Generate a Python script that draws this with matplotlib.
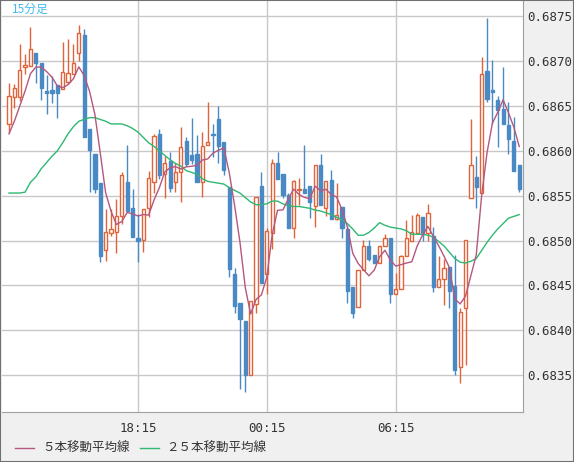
import numpy as np
import matplotlib.pyplot as plt
from matplotlib.patches import Rectangle
from matplotlib.lines import Line2D

# OHLC values (price * 1e5), 15-minute bars
opens = [68630, 68660, 68660, 68693, 68695, 68709, 68698, 68667, 68668, 68673,
         68669, 68677, 68686, 68709, 68729, 68624, 68597, 68564, 68489, 68508,
         68510, 68527, 68565, 68536, 68503, 68501, 68536, 68565, 68619, 68574,
         68589, 68565, 68576, 68611, 68595, 68596, 68565, 68607, 68619, 68636,
         68610, 68560, 68463, 68431, 68410, 68350, 68429, 68561, 68463, 68508,
         68586, 68574, 68551, 68514, 68556, 68558, 68561, 68539, 68584, 68536,
         68567, 68524, 68538, 68513, 68448, 68426, 68467, 68494, 68484, 68475,
         68494, 68503, 68440, 68446, 68483, 68499, 68509, 68526, 68508, 68505,
         68448, 68457, 68471, 68449, 68359, 68425, 68547, 68571, 68553, 68689,
         68668, 68657, 68647, 68629, 68611, 68584]
highs = [68676, 68675, 68719, 68708, 68738, 68709, 68698, 68684, 68683, 68673,
         68721, 68725, 68719, 68740, 68736, 68624, 68597, 68564, 68535, 68535,
         68546, 68577, 68607, 68557, 68530, 68535, 68578, 68619, 68624, 68594,
         68599, 68587, 68627, 68615, 68637, 68618, 68621, 68654, 68630, 68650,
         68610, 68560, 68470, 68431, 68410, 68433, 68549, 68576, 68514, 68591,
         68599, 68574, 68553, 68568, 68570, 68606, 68561, 68584, 68597, 68566,
         68579, 68564, 68538, 68517, 68448, 68467, 68501, 68501, 68484, 68494,
         68507, 68503, 68464, 68484, 68523, 68528, 68531, 68526, 68541, 68515,
         68483, 68480, 68471, 68484, 68425, 68501, 68636, 68594, 68705, 68748,
         68701, 68661, 68693, 68654, 68638, 68584]
lows = [68620, 68648, 68656, 68686, 68695, 68676, 68657, 68641, 68653, 68637,
        68669, 68675, 68686, 68700, 68615, 68554, 68553, 68476, 68477, 68505,
        68486, 68519, 68533, 68504, 68476, 68487, 68526, 68553, 68569, 68547,
        68554, 68554, 68543, 68583, 68585, 68565, 68549, 68607, 68593, 68586,
        68573, 68459, 68419, 68335, 68331, 68350, 68419, 68453, 68441, 68491,
        68569, 68548, 68514, 68503, 68540, 68553, 68525, 68515, 68540, 68527,
        68524, 68523, 68503, 68430, 68414, 68426, 68467, 68477, 68475, 68475,
        68494, 68430, 68440, 68446, 68483, 68499, 68509, 68500, 68500, 68443,
        68448, 68428, 68425, 68350, 68341, 68361, 68547, 68536, 68553, 68654,
        68630, 68604, 68630, 68596, 68578, 68554]
closes = [68661, 68670, 68690, 68696, 68713, 68698, 68670, 68665, 68665, 68664,
          68688, 68687, 68698, 68731, 68615, 68601, 68557, 68483, 68510, 68513,
          68527, 68573, 68533, 68504, 68500, 68535, 68570, 68617, 68573, 68587,
          68559, 68576, 68604, 68585, 68590, 68565, 68605, 68610, 68618, 68605,
          68579, 68468, 68427, 68413, 68350, 68433, 68549, 68453, 68511, 68587,
          68569, 68551, 68514, 68566, 68557, 68553, 68543, 68584, 68540, 68566,
          68524, 68529, 68514, 68444, 68419, 68467, 68494, 68480, 68475, 68494,
          68503, 68440, 68446, 68483, 68503, 68510, 68528, 68507, 68531, 68448,
          68457, 68470, 68444, 68356, 68420, 68501, 68584, 68560, 68686, 68658,
          68666, 68645, 68630, 68613, 68578, 68558]
prior_closes = [68600, 68606, 68611, 68617]
ma25 = [68553, 68553, 68553, 68554, 68565, 68571, 68580, 68587, 68594, 68600,
        68609, 68619, 68627, 68633, 68635, 68637, 68637, 68635, 68633, 68630,
        68630, 68630, 68628, 68625, 68621, 68615, 68609, 68605, 68600, 68595,
        68590, 68586, 68583, 68578, 68576, 68574, 68569, 68566, 68565, 68564,
        68563, 68559, 68556, 68553, 68548, 68543, 68540, 68540, 68541, 68544,
        68544, 68541, 68539, 68538, 68538, 68537, 68536, 68534, 68533, 68531,
        68529, 68526, 68523, 68519, 68513, 68506, 68506, 68509, 68514, 68520,
        68517, 68515, 68514, 68513, 68511, 68507, 68507, 68507, 68506, 68504,
        68499, 68494, 68487, 68480, 68476, 68475, 68477, 68480, 68489, 68498,
        68506, 68513, 68519, 68525, 68527, 68529]
tick_idx = [24, 48, 72]
tick_labels = ['18:15', '00:15', '06:15']
y_ticks = [0.6835, 0.6840, 0.6845, 0.6850, 0.6855, 0.6860, 0.6865, 0.6870, 0.6875]

UP = '#e0633a'
DOWN = '#4a8ac4'
MA5_C = '#b5577f'
MA25_C = '#2eb872'

o = np.array(opens) / 1e5
h = np.array(highs) / 1e5
l = np.array(lows) / 1e5
c = np.array(closes) / 1e5
allc = np.concatenate([np.array(prior_closes) / 1e5, c])
ma5 = np.convolve(allc, np.ones(5) / 5, mode='valid')
x = np.arange(len(c))

fig = plt.figure(figsize=(5.74, 4.62), dpi=100, facecolor='#f0f0f0')
fig.patches.append(Rectangle((0, 0), 1, 1, transform=fig.transFigure, fill=False,
                             edgecolor='#707070', linewidth=1.5))
ax = fig.add_axes([2 / 574, 50 / 462, 521 / 574, 411 / 462])
ax.set_facecolor('white')

for yt in y_ticks:
    ax.axhline(yt, color='#c8c8c8', linewidth=1, zorder=0)
for xt in tick_idx:
    ax.axvline(xt, color='#c8c8c8', linewidth=1, zorder=0)

# candles: hollow red for up bars, filled blue for down bars
w = 0.6
for i in x:
    up = c[i] >= o[i]
    col = UP if up else DOWN
    lo_b, hi_b = min(o[i], c[i]), max(o[i], c[i])
    ax.vlines(i, l[i], lo_b, color=col, linewidth=1, zorder=2)
    ax.vlines(i, hi_b, h[i], color=col, linewidth=1, zorder=2)
    height = max(hi_b - lo_b, 0.000006)
    ax.add_patch(Rectangle((i - w / 2, lo_b), w, height,
                           facecolor='white' if up else col,
                           edgecolor=col, linewidth=1, zorder=3))

ax.plot(x, np.array(ma25) / 1e5, color=MA25_C, linewidth=1, zorder=4)
ax.plot(x, ma5, color=MA5_C, linewidth=1, zorder=4)

ax.set_xlim(-1.3, 95.7)
ax.set_ylim(0.68309, 0.68767)
ax.yaxis.tick_right()
ax.set_yticks(y_ticks)
ax.set_yticklabels([f'{v:.4f}' for v in y_ticks], family='DejaVu Sans Mono',
                   fontsize=9, color='#333333')
ax.set_xticks(tick_idx)
ax.set_xticklabels(tick_labels, family='DejaVu Sans Mono', fontsize=9, color='#333333')
ax.tick_params(axis='y', length=0, pad=3)
ax.tick_params(axis='x', length=0, pad=7)
for s in ['top', 'left']:
    ax.spines[s].set_visible(False)
for s in ['right', 'bottom']:
    ax.spines[s].set_color('#a0a0a0')

jp = ['Noto Sans CJK JP', 'DejaVu Sans']
ax.text(0.02, 0.995, '15分足', transform=ax.transAxes, ha='left', va='top',
        color='#44bbee', fontsize=8.5, family=jp)

fig.add_artist(Line2D([15 / 574, 34 / 574], [(462 - 448) / 462] * 2, color=MA5_C, linewidth=1))
fig.text(42 / 574, (462 - 448) / 462, '５本移動平均線', va='center', fontsize=9, family=jp, color='#333333')
fig.add_artist(Line2D([140 / 574, 159 / 574], [(462 - 448) / 462] * 2, color=MA25_C, linewidth=1))
fig.text(166 / 574, (462 - 448) / 462, '２５本移動平均線', va='center', fontsize=9, family=jp, color='#333333')

fig.savefig('out.png', dpi=100, facecolor=fig.get_facecolor())
